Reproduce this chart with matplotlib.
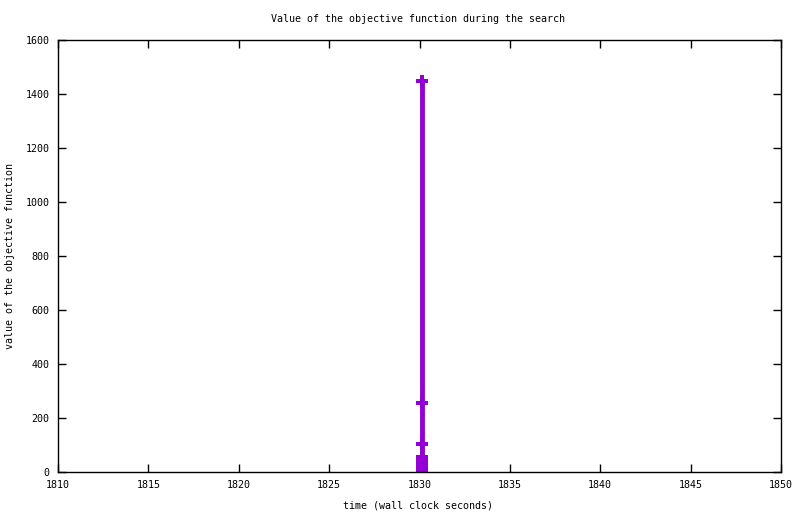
import matplotlib
matplotlib.use("Agg")
import matplotlib.pyplot as plt

# search log: time (s) vs objective value
times = [1830.15, 1830.15, 1830.15, 1830.15, 1830.15, 1830.15, 1830.15, 1830.15, 1830.15]
values = [1450, 255, 105, 55, 45, 35, 25, 12, 3]

x_ticks = [1810, 1815, 1820, 1825, 1830, 1835, 1840, 1845, 1850]
y_ticks = [0, 200, 400, 600, 800, 1000, 1200, 1400, 1600]

plt.rcParams["font.family"] = ["DejaVu Sans Mono"]

fig = plt.figure(figsize=(8.0, 5.14), dpi=100)
ax = fig.add_axes([58 / 800, 1 - 472 / 514, (781 - 58) / 800, (472 - 40) / 514])

ax.plot(times, values, color="#9400d3", linewidth=3.5, marker="P",
        markersize=9, markeredgewidth=0, solid_capstyle="butt")

ax.set_xlim(1810, 1850)
ax.set_ylim(0, 1600)
ax.set_xticks(x_ticks)
ax.set_yticks(y_ticks)
ax.tick_params(direction="in", length=6, width=1, top=True, right=True,
               labelsize=7.2, pad=6)
for s in ax.spines.values():
    s.set_linewidth(1)

fig.text(418 / 800, 1 - 19 / 514, "Value of the objective function during the search",
         ha="center", va="center", fontsize=7.2)
fig.text(418 / 800, 1 - 505 / 514, "time (wall clock seconds)",
         ha="center", va="center", fontsize=7.2)
fig.text(10 / 800, 1 - 256 / 514, "value of the objective function",
         ha="center", va="center", rotation=90, fontsize=7.2)

fig.savefig("out.png", dpi=100)
